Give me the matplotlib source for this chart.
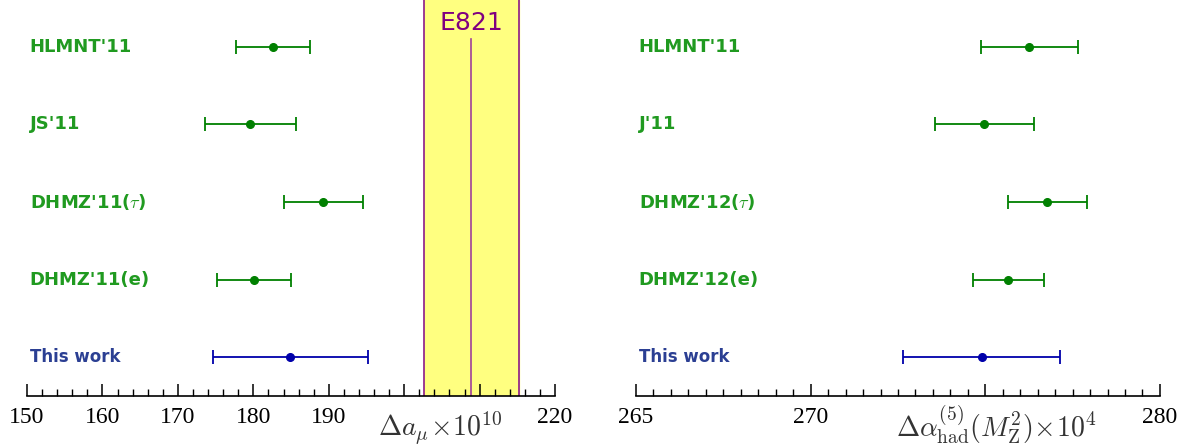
import numpy as np
import matplotlib
matplotlib.use("Agg")
import matplotlib.pyplot as plt

plt.rcParams['mathtext.fontset'] = 'cm'

# left panel: Delta a_mu x 10^10
left_names = ["HLMNT'11", "JS'11", "DHMZ'11($\\tau$)", "DHMZ'11(e)", "This work"]
left_vals = [182.6, 179.6, 189.3, 180.1, 184.9]
left_errs = [4.9, 6.0, 5.3, 4.9, 10.3]
e821_val = 208.9
e821_err = 6.3

# right panel: Delta alpha_had^(5)(M_Z^2) x 10^4
right_names = ["HLMNT'11", "J'11", "DHMZ'12($\\tau$)", "DHMZ'12(e)", "This work"]
right_vals = [276.26, 274.97, 276.78, 275.66, 274.90]
right_errs = [1.38, 1.42, 1.12, 1.02, 2.25]

rows = [5, 4, 3, 2, 1]
green = '#008000'
label_green = '#209a20'
blue = '#0000aa'
label_blue = '#2b3f93'


def draw_panel(ax, names, vals, errs, xlim, major, minor, ticklabels, xlabel, xlabel_pos):
    for name, v, e, y in zip(names, vals, errs, rows):
        is_ours = name == "This work"
        c = blue if is_ours else green
        ax.errorbar(v, y, xerr=e, fmt='o', color=c, ms=5.5, lw=1.3,
                    capsize=5, capthick=1.3, zorder=3)
        ax.text(0.005, y, name, transform=ax.get_yaxis_transform(),
                color=label_blue if is_ours else label_green,
                fontsize=12 if is_ours else 13, fontweight='bold',
                va='center', ha='left', family='DejaVu Sans')
    ax.set_xlim(*xlim)
    ax.set_ylim(0.5, 5.6)
    for s in ['top', 'left', 'right']:
        ax.spines[s].set_visible(False)
    ax.spines['bottom'].set_linewidth(1.2)
    ax.set_yticks([])
    ax.set_xticks(major)
    ax.set_xticks(minor, minor=True)
    ax.set_xticklabels(ticklabels, fontsize=17, family='Liberation Serif')
    ax.tick_params(axis='x', which='major', direction='in', length=9, width=1.1, pad=8)
    ax.tick_params(axis='x', which='minor', direction='in', length=5, width=1.0)
    # axis title sits between the tick labels, axes coordinates
    ax.text(xlabel_pos, -0.102, xlabel, transform=ax.transAxes,
            ha='center', va='baseline', fontsize=20, color='#333333')


fig = plt.figure(figsize=(11.8, 4.47), dpi=100)
axL = fig.add_axes([0.0229, 0.114, 0.4475, 0.886])
axR = fig.add_axes([0.539, 0.114, 0.444, 0.886])

# E821 band
axL.axvspan(e821_val - e821_err, e821_val + e821_err, color='#ffff80', zorder=0)
for xv in [e821_val - e821_err, e821_val + e821_err]:
    axL.axvline(xv, color='#8b1a8b', lw=1.2, zorder=1)
axL.plot([e821_val, e821_val], [0.5, 5.1], color='#a0409a', lw=1.2, zorder=1)
axL.text(e821_val, 5.31, 'E821', color='#800080', fontsize=18, ha='center', va='center',
         family='DejaVu Sans')

draw_panel(axL, left_names, left_vals, left_errs, (150, 220),
           np.arange(150, 221, 10), np.arange(150, 221, 2),
           ['150', '160', '170', '180', '190', '', '', '220'],
           r'$\Delta a_\mu\!\times\!10^{10}$', 0.783)
draw_panel(axR, right_names, right_vals, right_errs, (265, 280),
           np.arange(265, 281, 5), np.arange(265, 280.1, 0.5),
           ['265', '270', '', '280'],
           r'$\Delta\alpha^{(5)}_{\rm had}(M_{\rm Z}^2)\!\times\!10^4$', 0.687)

fig.savefig('out.png', dpi=100)
